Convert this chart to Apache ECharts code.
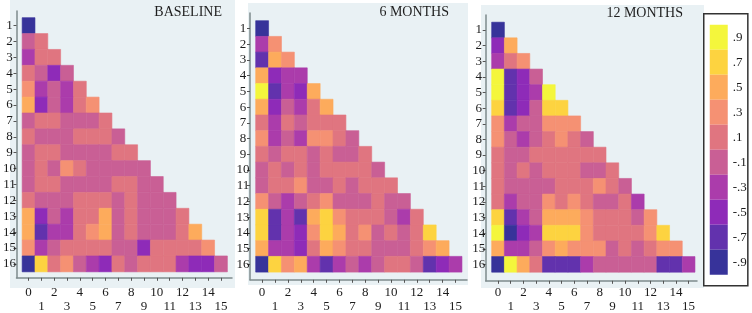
<!DOCTYPE html>
<html><head><meta charset="utf-8">
<style>html,body{margin:0;padding:0;background:#fff}#c{width:752px;height:313px;filter:blur(0.35px)}</style>
<script src="https://cdn.jsdelivr.net/npm/echarts@6/dist/echarts.min.js"></script>
</head><body><div id="c"></div>
<script>
var panelTitles = ['BASELINE', '6 MONTHS', '12 MONTHS'];
var xTicks = [0,1,2,3,4,5,6,7,8,9,10,11,12,13,14,15];
var xEvenLabels = [0,2,4,6,8,10,12,14];
var xOddLabels = [1,3,5,7,9,11,13,15];
var yTicks = [1,2,3,4,5,6,7,8,9,10,11,12,13,14,15,16];
var levels = [.9,.7,.5,.3,.1,-.1,-.3,-.5,-.7,-.9];
var levelLabels = ['.9','.7','.5','.3','.1','-.1','-.3','-.5','-.7','-.9'];
var levelColors = ['#f4f63c','#fdd340','#fdab5c','#f59173','#e07580','#c95f95','#ab3cab','#8e2bb8','#6232ad','#37339a'];

var baselineRows = [
[-.9],
[-.1,.1],
[-.3,.1,.1],
[.1,-.1,-.5,-.1],
[.3,-.3,-.1,-.3,.1],
[.5,-.5,-.1,-.3,.1,.3],
[-.1,.1,.1,-.1,-.1,-.1,.1],
[.1,-.1,-.1,-.1,.1,.1,.1,-.1],
[-.1,.1,.1,-.1,-.1,-.1,-.1,.1,.1],
[-.1,.1,-.1,.3,.1,-.1,-.1,-.1,-.1,-.1],
[-.1,.1,.1,-.1,-.1,-.1,-.1,.1,.1,-.1,-.1],
[.1,-.1,-.1,-.1,.1,.1,.1,-.1,.1,-.1,-.1,-.1],
[.5,-.5,-.1,-.3,.1,.1,.5,-.1,.1,-.1,-.1,-.1,.1],
[.5,-.7,-.3,-.3,.1,.3,.5,-.1,.1,-.1,-.1,-.1,.1,.5],
[.3,-.3,-.1,.1,.1,.1,.1,-.1,-.1,-.5,.1,.1,.1,.1,.3],
[-.9,.7,.1,.3,-.1,-.3,-.5,.1,-.1,.1,.1,.1,-.3,-.5,-.5,-.1]
];
var sixMonthRows = [
[-.9],
[-.3,.3],
[-.7,.5,.3],
[.5,-.5,-.3,-.3],
[.9,-.7,-.3,-.5,.5],
[.5,-.5,-.1,-.3,.1,.5],
[.1,-.3,.1,-.1,.1,.1,.1],
[.3,-.3,-.1,-.3,.3,.3,.1,-.1],
[.1,-.1,.1,.1,-.1,.1,-.1,-.1,.1],
[-.1,.1,-.1,.1,-.1,.1,.1,.1,.1,-.1],
[-.1,.1,.1,.3,-.1,-.1,.1,-.1,.1,.1,.1],
[.3,-.1,-.3,-.1,.1,.3,-.1,-.1,-.1,.1,-.1,-.1],
[.7,-.7,-.3,-.7,.5,.7,.3,.1,.1,.1,-.1,-.3,.1],
[.7,-.7,-.3,-.5,.3,.7,.5,.1,.3,-.1,.1,-.1,.1,.7],
[.5,-.3,-.3,-.5,.1,.5,.3,.1,.1,-.1,-.1,-.1,.1,.3,.5],
[-.9,.7,.3,.5,-.3,-.7,-.3,-.1,-.3,-.1,.1,.1,-.1,-.7,-.5,-.3]
];
var twelveMonthRows = [
[-.9],
[-.5,.5],
[-.3,.1,.3],
[.9,-.7,-.5,-.1],
[.9,-.7,-.5,-.3,.9],
[.7,-.7,-.5,-.1,.7,.7],
[.3,-.3,-.1,-.1,.3,.3,.3],
[.3,-.1,-.3,-.1,.1,.3,.1,-.1],
[.1,-.1,-.1,.1,.1,.1,.1,.1,.1],
[.1,-.1,.1,-.1,.1,.1,.1,-.1,-.1,.1],
[.1,-.1,-.1,-.1,-.1,.1,.1,.1,.3,.1,-.1],
[.1,-.3,-.1,-.1,.3,.1,.3,.1,-.1,-.1,.1,-.3],
[.7,-.7,-.3,-.1,.5,.5,.5,.3,.1,.1,.1,-.1,.3],
[.9,-.9,-.5,-.3,.7,.7,.7,.3,.1,.1,.1,.1,.3,.7],
[.5,-.3,-.3,-.1,.3,.5,.3,.3,.3,-.1,.1,-.1,.1,.3,.3],
[-.9,.9,.5,.1,-.7,-.7,-.7,-.3,-.1,-.1,-.1,-.1,-.1,-.7,-.7,-.3]
];

var FONT = '"Liberation Serif", serif';
var INK = '#1c1c1c', AXIS = '#7d8a8c', PANEL = '#e9f1f4';

var panels = [
  {rows: baselineRows, left:15, right:232, top:11, bottom:280, xmin:-.94, xmax:15.86, ymin:.08, ymax:16.875, bg:[10,0,225,288], tx:222, ty:5},
  {rows: sixMonthRows, left:250, right:467, top:13, bottom:282, xmin:-.94, xmax:15.89, ymin:.01, ymax:16.99, bg:[248,3,220,282], tx:449, ty:5},
  {rows: twelveMonthRows, left:485.7, right:697, top:15, bottom:283, xmin:-.97, xmax:15.66, ymin:.04, ymax:17.05, bg:[481,5,223,283], tx:683, ty:6}
];

function renderCell(params, api) {
  var c = api.coord([api.value(0), api.value(1)]);
  var s = api.size([1, 1]);
  var color = api.visual('color');
  return {type:'rect',
    shape:{x:c[0]-s[0]/2, y:c[1]-s[1]/2, width:s[0], height:s[1]},
    style:{fill:color, stroke:color, lineWidth:0.6}};
}

var option = {
  animation:false, backgroundColor:'#ffffff', tooltip:{show:false},
  title:[], grid:[], xAxis:[], yAxis:[], series:[],
  graphic: panels.map(function(p){
    return {type:'rect', z:-10, silent:true,
      shape:{x:p.bg[0], y:p.bg[1], width:p.bg[2], height:p.bg[3]},
      style:{fill:PANEL}};
  }),
  visualMap:{
    type:'piecewise', dimension:2, seriesIndex:[0,1,2],
    left:703, top:13, orient:'vertical', inverse:false,
    padding:[11,1,11,6], itemWidth:18, itemHeight:25, itemGap:0, itemSymbol:'rect', textGap:5,
    align:'left', selectedMode:false, hoverLink:false,
    backgroundColor:'#ffffff', borderColor:'#333333', borderWidth:1.5,
    textStyle:{color:INK, fontFamily:FONT, fontSize:13},
    pieces: levels.map(function(v,i){ return {value:v, label:levelLabels[i], color:levelColors[i]}; })
  }
};

panels.forEach(function(p,i){
  option.title.push({text:panelTitles[i], right:752-p.tx, top:p.ty, padding:0,
    textStyle:{fontFamily:FONT, fontSize:14, fontWeight:'normal', color:'#1e1e1e'}});
  option.grid.push({left:p.left, top:p.top, width:p.right-p.left, height:p.bottom-p.top, show:false});
  option.xAxis.push({type:'value', gridIndex:i, min:p.xmin, max:p.xmax, position:'bottom',
    splitLine:{show:false},
    axisLine:{show:true, onZero:false, lineStyle:{color:AXIS, width:1.5}},
    axisTick:{show:true, length:3, customValues:xTicks, lineStyle:{color:'#555', width:1}},
    axisLabel:{show:true, customValues:xEvenLabels, margin:295-6.5-p.bottom, color:INK, fontFamily:FONT, fontSize:13,
      hideOverlap:false, showMinLabel:true, showMaxLabel:true}
  });
  option.yAxis.push({type:'value', gridIndex:i, inverse:true, min:p.ymin, max:p.ymax, position:'left',
    splitLine:{show:false},
    axisLine:{show:true, onZero:false, lineStyle:{color:AXIS, width:1.5}},
    axisTick:{show:true, length:3, customValues:yTicks, lineStyle:{color:'#555', width:1}},
    axisLabel:{show:true, customValues:yTicks, margin:7, align:'center', color:INK, fontFamily:FONT, fontSize:13,
      hideOverlap:false, showMinLabel:true, showMaxLabel:true}
  });
  var data = [];
  p.rows.forEach(function(row,r){ row.forEach(function(v,c){ data.push([xTicks[c], yTicks[r], v]); }); });
  option.series.push({type:'custom', coordinateSystem:'cartesian2d', xAxisIndex:i, yAxisIndex:i,
    encode:{x:0,y:1}, silent:true, clip:false, renderItem:renderCell, data:data});
});
// second x axis of each panel: carries only the lower (odd) row of labels
panels.forEach(function(p,i){
  option.xAxis.push({type:'value', gridIndex:i, min:p.xmin, max:p.xmax, position:'bottom',
    splitLine:{show:false}, axisLine:{show:false}, axisTick:{show:false},
    axisLabel:{show:true, customValues:xOddLabels, margin:308.7-6.5-p.bottom, color:INK, fontFamily:FONT, fontSize:13,
      hideOverlap:false, showMinLabel:true, showMaxLabel:true}
  });
});

echarts.init(document.getElementById('c'), null, {renderer:'canvas'}).setOption(option);
</script></body></html>
